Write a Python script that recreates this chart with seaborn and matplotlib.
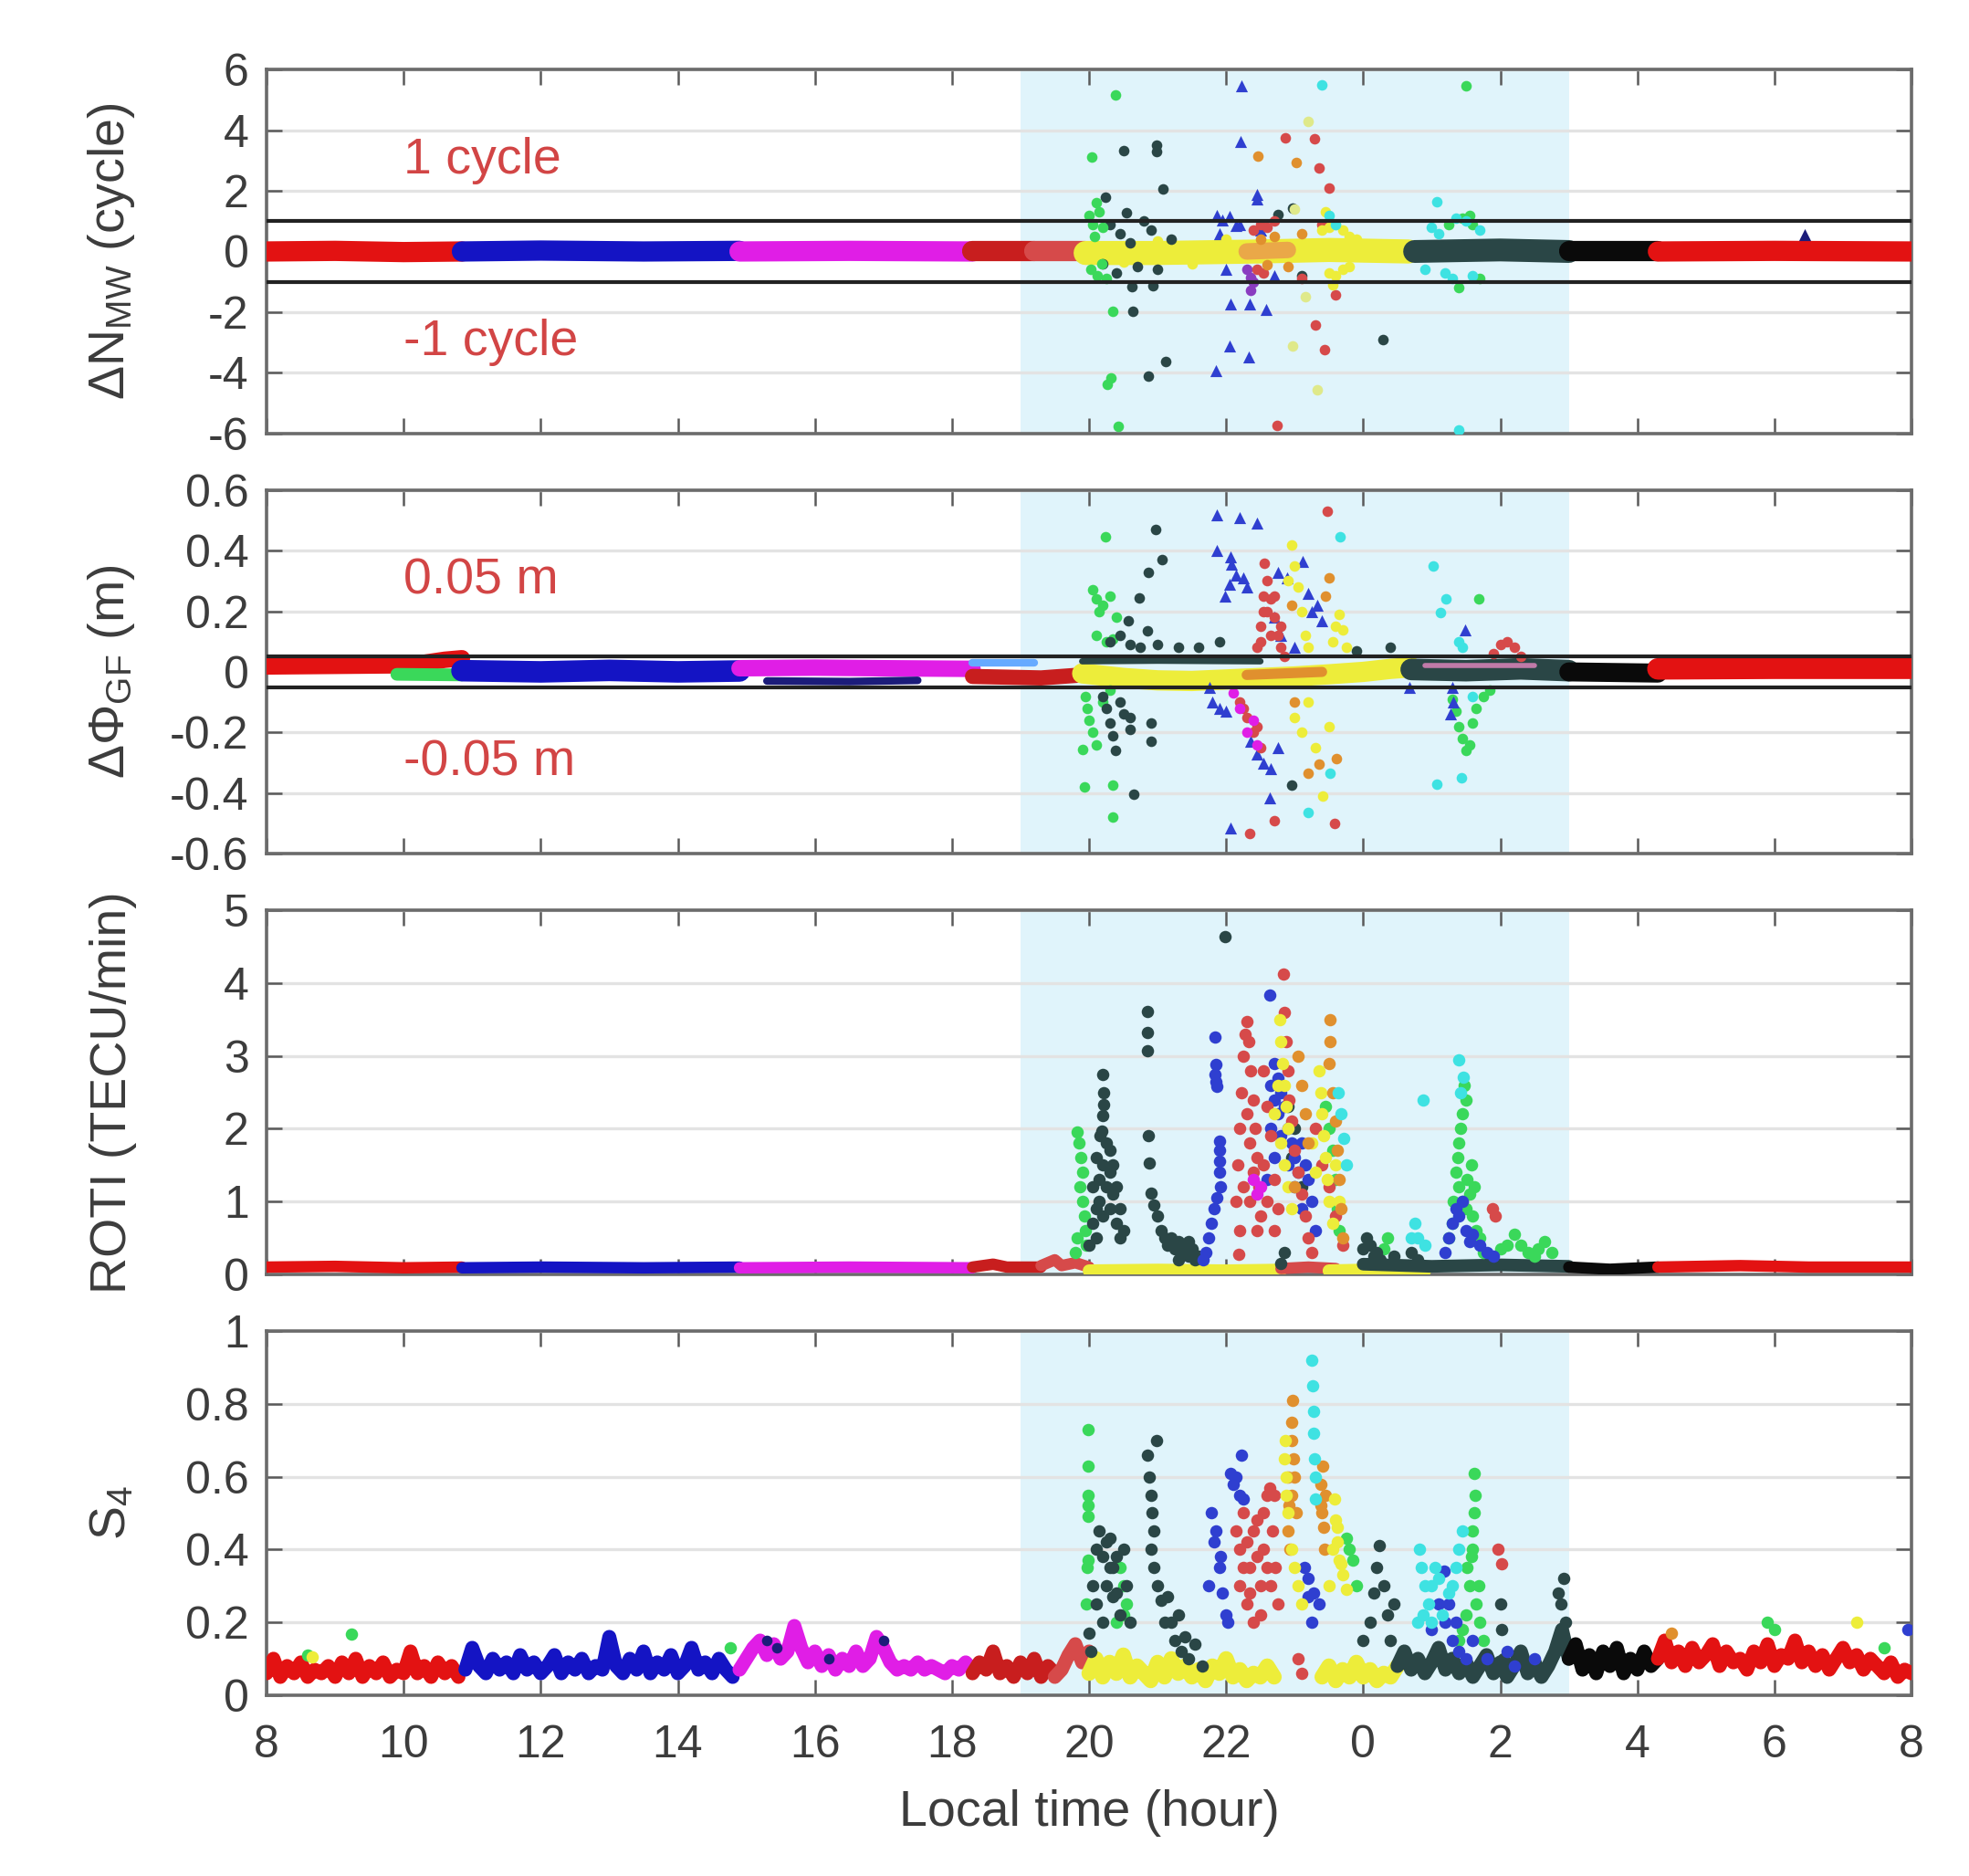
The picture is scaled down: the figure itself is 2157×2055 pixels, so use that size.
import matplotlib
matplotlib.use("Agg")
import matplotlib.pyplot as plt
import seaborn as sns
from matplotlib.ticker import FuncFormatter

# ---- colours (MATLAB-like satellite colours) ----
RED = "#e31212"
BLUE = "#1414c4"
MAGENTA = "#e01ee6"
DKRED = "#c81e1e"
INDRED = "#d64a4a"
YELLOW = "#eded3a"
PALE = "#dfe98a"
ORANGE = "#e0902e"
GREEN = "#3ad85a"
SLATE = "#2a4646"
CYAN = "#3ee2e2"
BLACK = "#0a0a0a"
PURPLE = "#8a3cc0"
ROYAL = "#2f3fd0"
NAVY = "#1c1c7a"
SHADE = "#e0f4fb"
TXT = "#3c3c3c"
ANNOT = "#d24545"

XTICKS = [8, 10, 12, 14, 16, 18, 20, 22, 24, 26, 28, 30, 32]
STORM = (19.0, 27.0)

# ---------------- Panel 1 : delta N_MW (cycle) ----------------
MW_RED1 = [(8.0, 0.0), (9.0, 0.02), (10.0, -0.02), (10.85, 0.0)]
MW_BLUE1 = [(10.85, 0.0), (12.0, 0.03), (13.5, 0.0), (14.9, 0.02)]
MW_MAG1 = [(14.9, 0.0), (16.5, 0.02), (18.3, 0.0)]
MW_RED2 = [(18.3, 0.0), (19.2, 0.0)]
MW_IND = [(19.2, 0.0), (19.95, 0.0)]
MW_YEL = [(19.95, -0.05), (21.0, -0.05), (22.5, 0.0), (23.5, 0.05), (24.66, 0.0)]
MW_ORA = [(22.3, 0.0), (22.9, 0.05)]
MW_SLATE2 = [(24.75, 0.0), (26.0, 0.05), (27.0, 0.0)]
MW_BLACK = [(27.0, 0.0), (28.3, 0.0)]
MW_RED3 = [(28.3, 0.0), (30.0, 0.02), (32.0, 0.0)]

MW_SLATE_PTS = [(20.24, 1.78), (20.51, 3.31), (20.98, 3.5), (20.98, 3.3), (21.08, 2.05),
                (20.54, 1.28), (20.62, -1.17), (20.93, -1.12), (20.64, -1.97), (21.12, -3.62),
                (20.86, -4.12), (20.3, 0.9), (20.45, 0.6), (20.7, -0.5), (20.9, 0.7),
                (21.2, 0.4), (20.4, -0.7), (20.8, 1.0), (24.29, -2.89), (20.6, 0.3),
                (21.0, -0.6), (22.97, 1.43), (22.75, 1.23), (23.1, -0.8), (20.2, -0.4)]
MW_GREEN_PTS = [(20.39, 5.15), (20.04, 3.1), (20.35, -1.97), (20.32, -4.17), (20.26, -4.37),
                (20.43, -5.77), (20.0, 1.2), (20.05, 0.9), (20.1, 1.6), (20.15, 1.3),
                (20.2, 0.8), (20.02, -0.6), (20.12, -0.8), (20.25, -0.9), (20.08, 0.5),
                (20.18, -0.4), (25.5, 5.45), (25.45, 1.1), (25.6, 0.9), (25.7, -0.9),
                (25.4, -1.2), (25.55, 1.2), (25.25, 0.9)]
MW_BLUE_PTS = [(22.23, 5.45), (22.21, 3.63), (22.45, 1.88), (22.45, 1.73), (21.87, 1.2),
               (21.95, 1.05), (22.05, 1.15), (22.14, 0.85), (22.06, -1.72), (22.35, -1.72),
               (22.59, -1.92), (22.05, -3.12), (22.33, -3.47), (21.85, -3.92), (22.0, -0.6),
               (22.2, 0.9), (22.5, 0.7), (22.7, -0.8), (21.9, 0.6)]
MW_PURPLE_PTS = [(22.36, -0.87), (22.36, -1.27), (22.3, -0.6), (22.4, -1.0)]
MW_IND_PTS = [(22.86, 3.75), (23.29, 3.71), (23.36, 2.75), (23.5, 2.08), (23.59, -1.42),
              (23.3, -2.42), (23.44, -3.22), (22.74, -5.72), (22.4, 0.7), (22.5, 0.9),
              (22.6, 0.8), (22.45, -0.6), (22.55, -0.7), (22.7, 1.0), (23.1, -0.9), (23.4, 0.9)]
MW_ORA_PTS = [(22.46, 3.13), (23.02, 2.93), (22.5, 0.4), (22.7, 0.5), (22.6, -0.45),
              (22.9, -0.5), (23.1, 0.6)]
MW_PALE_PTS = [(23.19, 4.28), (22.97, -3.12), (23.33, -4.57), (23.15, -1.5), (23.0, 1.4)]
MW_YEL_PTS = [(23.4, 0.7), (23.5, 0.8), (23.6, 0.9), (23.7, 0.7), (23.8, 0.5), (23.9, 0.4),
              (23.5, -0.7), (23.6, -0.8), (23.7, -0.6), (23.8, -0.5), (23.45, 1.3), (23.55, -1.1),
              (21.0, 0.35), (21.5, -0.4), (22.0, 0.4), (20.5, -0.35)]
MW_CYAN_PTS = [(23.4, 5.48), (25.07, 1.63), (25.4, -5.87), (23.5, 1.2), (23.6, 0.9), (25.0, 0.8),
               (25.2, -0.7), (25.3, -0.9), (25.5, 1.0), (25.6, -0.8), (24.9, -0.6), (25.1, 0.6),
               (25.35, 1.1), (25.7, 0.7)]
MW_NAVY_PTS = [(30.44, 0.56)]

# ---------------- Panel 2 : delta Phi_GF (m) ----------------
GF_RED1 = [(8.0, 0.018), (9.0, 0.02), (10.0, 0.022), (10.3, 0.03), (10.6, 0.04), (10.85, 0.045)]
GF_GREEN1 = [(9.9, -0.008), (10.85, -0.01)]
GF_BLUE1 = [(10.85, 0.004), (12.0, 0.0), (13.0, 0.005), (14.0, 0.0), (14.9, 0.003)]
GF_MAG1 = [(14.9, 0.012), (16.0, 0.014), (17.0, 0.012), (18.3, 0.01)]
GF_NAVY1 = [(15.3, -0.03), (16.5, -0.032), (17.5, -0.028)]
GF_LBLUE = [(18.3, 0.03), (19.2, 0.03)]
GF_RED2 = [(18.3, -0.015), (19.3, -0.02), (19.9, -0.01)]
GF_YEL = [(19.9, -0.005), (20.5, -0.02), (21.0, -0.028), (21.5, -0.03), (22.0, -0.025),
          (22.5, -0.02), (23.0, -0.015), (23.5, -0.008), (24.0, 0.0), (24.4, 0.01), (24.7, 0.015)]
GF_ORA = [(22.3, -0.01), (23.4, 0.0)]
GF_SLATE1 = [(19.9, 0.035), (21.0, 0.037), (22.5, 0.035)]
GF_SLATE2 = [(24.7, 0.008), (25.5, 0.004), (26.3, 0.01), (27.0, 0.004)]
GF_PINK = [(24.9, 0.022), (26.5, 0.022)]
GF_BLACK = [(27.0, 0.0), (28.3, -0.004)]
GF_RED3 = [(28.3, 0.01), (30.0, 0.012), (32.0, 0.012)]

GF_GREEN_PTS = [(20.24, 0.445), (20.05, 0.27), (20.1, 0.24), (20.15, 0.2), (20.2, 0.22),
                (20.3, 0.25), (20.4, 0.18), (20.1, 0.12), (20.25, 0.1), (20.35, 0.11),
                (19.95, -0.08), (19.97, -0.12), (20.0, -0.16), (20.05, -0.2), (20.1, -0.24),
                (19.9, -0.255), (19.93, -0.38), (20.35, -0.375), (20.35, -0.48), (20.3, -0.06),
                (20.2, -0.1), (25.68, 0.24), (25.3, -0.09), (25.35, -0.13), (25.4, -0.18),
                (25.45, -0.22), (25.5, -0.26), (25.55, -0.24), (25.6, -0.17), (25.65, -0.12),
                (25.75, -0.08), (25.85, -0.06)]
GF_SLATE_PTS = [(20.97, 0.47), (21.07, 0.37), (20.86, 0.33), (20.73, 0.245), (20.57, 0.17),
                (20.85, 0.135), (20.3, 0.1), (20.45, 0.12), (20.6, 0.09), (20.75, 0.08),
                (21.0, 0.09), (21.3, 0.08), (21.6, 0.08), (21.9, 0.1), (20.2, -0.08),
                (20.25, -0.12), (20.3, -0.17), (20.35, -0.21), (20.38, -0.26), (20.6, -0.15),
                (20.6, -0.19), (20.9, -0.17), (20.9, -0.23), (20.65, -0.405), (22.95, -0.375),
                (20.45, -0.1), (20.5, -0.14), (23.9, 0.07), (24.4, 0.08)]
GF_BLUE_PTS = [(21.87, 0.52), (22.2, 0.51), (22.45, 0.49), (21.87, 0.4), (22.06, 0.38),
               (22.08, 0.355), (21.98, 0.25), (22.05, 0.29), (22.15, 0.32), (22.25, 0.31),
               (22.3, 0.28), (22.75, 0.33), (22.89, 0.31), (23.11, 0.365), (23.33, 0.22),
               (23.39, 0.17), (23.2, 0.26), (23.25, 0.2), (21.76, -0.05), (21.8, -0.1),
               (21.9, -0.12), (22.0, -0.13), (22.36, -0.23), (22.45, -0.27), (22.55, -0.3),
               (22.65, -0.32), (22.75, -0.25), (22.64, -0.415), (22.06, -0.515), (25.49, 0.14),
               (25.3, -0.05), (25.32, -0.1), (25.28, -0.14), (24.68, -0.05), (22.7, 0.18),
               (22.8, 0.12), (23.0, 0.08)]
GF_IND_PTS = [(22.45, 0.08), (22.5, 0.15), (22.55, 0.25), (22.56, 0.36), (22.6, 0.3),
              (22.65, 0.24), (22.7, 0.18), (22.75, 0.12), (22.8, 0.08), (22.85, 0.05),
              (22.5, 0.1), (22.6, 0.2), (22.7, 0.25), (22.8, 0.15), (22.55, 0.2), (22.65, 0.12),
              (23.48, 0.53), (22.2, -0.1), (22.3, -0.15), (22.4, -0.2), (22.5, -0.25),
              (22.35, -0.535), (22.7, -0.49), (23.58, -0.5), (22.25, -0.12), (22.45, -0.18),
              (25.9, 0.06), (26.0, 0.09), (26.1, 0.1), (26.2, 0.08), (26.3, 0.05)]
GF_YEL_PTS = [(22.9, 0.3), (22.95, 0.42), (23.0, 0.35), (23.05, 0.28), (23.1, 0.2),
              (23.15, 0.12), (23.2, 0.08), (23.55, 0.1), (23.6, 0.15), (23.65, 0.19),
              (23.7, 0.14), (23.75, 0.08), (23.0, -0.15), (23.1, -0.2), (23.2, -0.1),
              (23.41, -0.41), (23.3, -0.25), (23.5, -0.18)]
GF_ORA_PTS = [(23.5, 0.31), (23.19, -0.335), (23.36, -0.305), (23.61, -0.285), (23.45, 0.25),
              (23.0, -0.1), (22.95, 0.22)]
GF_CYAN_PTS = [(23.66, 0.445), (23.19, -0.465), (23.52, -0.335), (25.02, 0.35), (25.21, 0.24),
               (25.13, 0.195), (25.07, -0.37), (25.43, -0.35), (25.4, 0.1), (25.45, 0.08),
               (25.6, -0.08)]
GF_MAG_PTS = [(22.1, -0.07), (22.2, -0.12), (22.3, -0.2), (22.4, -0.16), (22.45, -0.24)]

# ---------------- Panel 3 : ROTI (TECU/min) ----------------
RO_RED1 = [(8.0, 0.1), (9.0, 0.11), (10.0, 0.09), (10.85, 0.1)]
RO_BLUE1 = [(10.85, 0.09), (12.0, 0.1), (13.5, 0.09), (14.9, 0.1)]
RO_MAG1 = [(14.9, 0.09), (16.5, 0.1), (18.3, 0.09)]
RO_RED2 = [(18.3, 0.1), (18.6, 0.14), (18.8, 0.1), (19.3, 0.1)]
RO_IND = [(19.3, 0.12), (19.5, 0.2), (19.6, 0.12), (19.8, 0.16), (20.0, 0.1)]
RO_YEL1 = [(20.0, 0.05), (21.0, 0.06), (22.0, 0.05), (22.8, 0.06)]
RO_IND2 = [(22.8, 0.08), (23.2, 0.1), (23.6, 0.08)]
RO_YEL2 = [(23.5, 0.05), (24.0, 0.06), (24.9, 0.05)]
RO_SLATE2 = [(24.0, 0.14), (25.0, 0.11), (26.0, 0.13), (27.0, 0.11)]
RO_BLACK = [(27.0, 0.1), (27.6, 0.07), (28.3, 0.1)]
RO_RED3 = [(28.3, 0.1), (29.5, 0.12), (30.5, 0.1), (32.0, 0.1)]

RO_SLATE_PTS = [(20.2, 2.75), (20.21, 2.5), (20.21, 2.33), (20.2, 2.18), (20.18, 1.97),
                (20.16, 1.91), (20.1, 1.6), (20.2, 1.5), (20.3, 1.4), (20.25, 1.2), (20.35, 1.1),
                (20.15, 1.0), (20.3, 0.9), (20.2, 0.8), (20.4, 0.7), (20.05, 0.7), (20.1, 0.5),
                (20.0, 0.4), (20.45, 0.5), (20.15, 1.3), (20.3, 1.7), (20.25, 1.8),
                (20.35, 1.5), (20.4, 1.2), (20.45, 0.9), (20.5, 0.6), (20.05, 1.2), (20.1, 0.9),
                (20.85, 3.61), (20.85, 3.32), (20.85, 3.07), (20.86, 1.91), (20.88, 1.53),
                (20.9, 1.11), (20.95, 0.95), (21.0, 0.8), (21.05, 0.6), (21.1, 0.5),
                (21.15, 0.4), (21.2, 0.5), (21.25, 0.35), (21.3, 0.45), (21.35, 0.3),
                (21.4, 0.4), (21.45, 0.25), (21.5, 0.35), (21.55, 0.2), (21.6, 0.25),
                (21.3, 0.2), (21.45, 0.45), (21.98, 4.64), (24.0, 0.35), (24.05, 0.5),
                (24.1, 0.4), (24.15, 0.25), (24.2, 0.3), (24.25, 0.2), (24.45, 0.25),
                (22.9, 2.3), (23.0, 2.0), (22.95, 1.6), (23.1, 1.2), (22.85, 0.3),
                (22.8, 0.15), (24.7, 0.3), (24.8, 0.2)]
RO_GREEN_PTS = [(19.83, 1.95), (19.85, 1.8), (19.88, 1.6), (19.9, 1.4), (19.86, 1.2),
                (19.9, 1.0), (19.93, 0.8), (19.95, 0.6), (19.96, 0.4), (19.8, 0.3), (19.82, 0.5),
                (23.45, 2.3), (23.5, 2.0), (23.55, 1.7), (23.6, 1.3), (23.62, 0.9), (23.65, 0.6),
                (24.3, 0.35), (24.35, 0.5), (25.48, 2.6), (25.5, 2.4), (25.45, 2.2),
                (25.42, 2.0), (25.4, 1.8), (25.38, 1.6), (25.35, 1.4), (25.4, 1.2), (25.45, 1.0),
                (25.5, 0.9), (25.55, 1.1), (25.6, 0.8), (25.65, 0.6), (25.7, 0.5), (25.32, 1.0),
                (25.3, 0.7), (25.52, 1.3), (25.58, 1.5), (25.62, 1.2), (25.25, 0.5),
                (25.75, 0.3), (26.0, 0.35), (26.1, 0.4), (26.2, 0.55), (26.3, 0.4), (26.4, 0.3),
                (26.5, 0.25), (26.55, 0.35), (26.65, 0.45), (26.75, 0.3)]
RO_BLUE_PTS = [(21.84, 3.26), (21.85, 2.88), (21.84, 2.75), (21.85, 2.65), (21.87, 2.58),
               (21.9, 1.83), (21.9, 1.7), (21.91, 1.55), (21.9, 1.4), (21.92, 1.2),
               (21.87, 1.05), (21.83, 0.9), (21.78, 0.7), (21.74, 0.5), (21.7, 0.3),
               (21.66, 0.2), (22.64, 3.84), (22.65, 2.6), (22.7, 2.4), (22.75, 2.2),
               (22.8, 2.5), (22.85, 2.3), (22.9, 2.0), (22.95, 1.8), (23.0, 1.6), (23.05, 1.4),
               (23.1, 1.8), (23.15, 1.5), (22.7, 1.6), (22.6, 1.3), (22.7, 2.9), (22.75, 2.7),
               (22.8, 1.9), (22.9, 1.5), (23.0, 1.2), (23.1, 0.9), (23.2, 1.3), (23.25, 1.0),
               (23.3, 0.6), (22.65, 2.0), (25.25, 0.5), (25.3, 0.7),
               (25.35, 0.9), (25.4, 0.8), (25.45, 1.0), (25.5, 0.6), (25.55, 0.45), (25.6, 0.55),
               (25.7, 0.4), (25.8, 0.3), (25.9, 0.25), (25.2, 0.3)]
RO_IND_PTS = [(22.15, 1.0), (22.17, 1.5), (22.2, 2.0), (22.22, 2.5), (22.25, 3.0), (22.28, 3.3),
              (22.3, 3.47), (22.33, 3.2), (22.36, 2.8), (22.4, 2.4), (22.42, 2.0), (22.45, 1.6),
              (22.48, 1.2), (22.5, 0.8), (22.2, 0.6), (22.18, 0.27), (22.3, 2.2), (22.35, 1.8),
              (22.4, 1.4), (22.25, 1.2), (22.35, 1.0), (22.45, 0.6), (22.55, 2.8), (22.6, 2.3),
              (22.65, 1.9), (22.7, 1.3), (22.75, 0.9), (22.55, 1.5), (22.6, 1.0), (22.7, 0.6),
              (22.83, 4.12), (22.85, 3.6), (22.88, 3.2), (22.9, 2.8),
              (22.92, 2.4), (22.95, 2.1), (23.0, 1.7), (23.05, 1.4), (23.1, 1.1), (23.15, 0.8),
              (23.2, 0.5), (23.25, 0.3), (23.3, 2.0), (23.4, 1.5), (23.5, 1.2), (23.6, 0.8),
              (23.7, 0.4), (25.88, 0.9), (25.92, 0.8)]
RO_ORA_PTS = [(23.52, 3.5), (23.52, 3.2), (23.5, 2.9), (23.55, 2.5), (23.6, 2.1), (23.62, 1.7),
              (23.65, 1.3), (23.68, 0.9), (23.7, 0.5), (23.05, 3.0), (23.1, 2.6), (23.15, 2.2),
              (23.2, 1.8), (23.0, 1.2)]
RO_YEL_PTS = [(22.78, 3.5), (22.8, 3.2), (22.82, 2.9), (22.85, 2.6), (22.88, 2.3), (22.9, 2.0),
              (22.8, 1.8), (22.85, 1.5), (22.9, 1.2), (22.95, 0.9), (22.75, 2.6), (22.7, 2.2),
              (23.35, 2.8), (23.38, 2.5), (23.4, 2.2), (23.42, 1.9), (23.45, 1.6), (23.48, 1.3),
              (23.5, 1.0), (23.55, 0.7), (23.3, 1.4), (23.25, 1.8), (23.6, 1.5), (23.65, 1.0)]
RO_CYAN_PTS = [(23.64, 2.5), (23.68, 2.2), (23.72, 1.87), (23.75, 1.5), (24.88, 2.39),
               (25.4, 2.94), (25.46, 2.71), (25.42, 2.5), (24.7, 0.5), (24.75, 0.7),
               (24.8, 0.5), (24.9, 0.4)]
RO_MAG_PTS = [(22.4, 1.3), (22.45, 1.1), (22.5, 1.2)]

# ---------------- Panel 4 : S4 ----------------
S4_RED1 = [(8.0, .06), (8.1, .10), (8.2, .05), (8.3, .08), (8.4, .06), (8.5, .09), (8.6, .05),
           (8.7, .07), (8.8, .06), (8.9, .08), (9.0, .05), (9.1, .09), (9.2, .06), (9.3, .10),
           (9.4, .05), (9.5, .08), (9.6, .06), (9.7, .09), (9.8, .05), (9.9, .07), (10.0, .06),
           (10.1, .12), (10.2, .06), (10.3, .08), (10.4, .05), (10.5, .09), (10.6, .06),
           (10.7, .08), (10.8, .05)]
S4_BLUE1 = [(10.9, .07), (11.0, .13), (11.1, .08), (11.2, .06), (11.3, .10), (11.4, .07),
            (11.5, .09), (11.6, .06), (11.7, .11), (11.8, .07), (11.9, .09), (12.0, .06),
            (12.1, .08), (12.2, .11), (12.3, .06), (12.4, .09), (12.5, .07), (12.6, .10),
            (12.7, .06), (12.8, .08), (12.9, .07), (13.0, .16), (13.1, .08), (13.2, .06),
            (13.3, .10), (13.4, .07), (13.5, .12), (13.6, .06), (13.7, .09), (13.8, .07),
            (13.9, .11), (14.0, .06), (14.1, .08), (14.2, .13), (14.3, .07), (14.4, .09),
            (14.5, .06), (14.6, .10), (14.7, .07), (14.8, .05)]
S4_MAG1 = [(14.9, .07), (15.0, .10), (15.1, .13), (15.2, .15), (15.3, .11), (15.4, .14),
           (15.5, .10), (15.6, .12), (15.7, .19), (15.8, .13), (15.9, .09), (16.0, .12),
           (16.1, .08), (16.2, .11), (16.3, .07), (16.4, .10), (16.5, .08), (16.6, .12),
           (16.7, .08), (16.8, .10), (16.9, .16), (17.0, .13), (17.1, .09), (17.2, .07),
           (17.3, .08), (17.4, .07), (17.5, .09), (17.6, .07), (17.7, .08), (17.8, .07),
           (17.9, .06), (18.0, .08), (18.1, .07), (18.2, .09), (18.3, .07)]
S4_RED2 = [(18.3, .06), (18.4, .09), (18.5, .07), (18.6, .12), (18.7, .06), (18.8, .08),
           (18.9, .05), (19.0, .09), (19.1, .06), (19.2, .10), (19.3, .05), (19.4, .08),
           (19.5, .06)]
S4_IND = [(19.5, .05), (19.6, .07), (19.7, .11), (19.8, .14), (19.9, .09), (20.0, .12)]
S4_YEL1 = [(20.0, .06), (20.1, .10), (20.2, .05), (20.3, .09), (20.4, .06), (20.5, .11),
           (20.6, .05), (20.7, .08), (20.8, .06), (20.9, .04), (21.0, .09), (21.1, .05),
           (21.2, .10), (21.3, .06), (21.4, .08), (21.5, .05), (21.6, .07), (21.7, .04),
           (21.8, .08), (21.9, .06), (22.0, .10), (22.1, .05), (22.2, .07), (22.3, .04),
           (22.4, .06), (22.5, .05), (22.6, .08), (22.7, .05)]
S4_YEL2 = [(23.4, .05), (23.5, .08), (23.6, .04), (23.7, .07), (23.8, .05), (23.9, .09),
           (24.0, .05), (24.1, .07), (24.2, .04), (24.3, .06), (24.4, .05), (24.5, .08)]
S4_SLATE2 = [(24.5, .08), (24.6, .12), (24.7, .07), (24.8, .10), (24.9, .06), (25.0, .09),
             (25.1, .13), (25.2, .07), (25.3, .10), (25.4, .06), (25.5, .09), (25.6, .05),
             (25.7, .08), (25.8, .11), (25.9, .06), (26.0, .09), (26.1, .05), (26.2, .08),
             (26.3, .12), (26.4, .06), (26.5, .09), (26.6, .05), (26.7, .08), (26.8, .12),
             (26.9, .18), (27.0, .10)]
S4_BLACK = [(27.0, .10), (27.1, .14), (27.2, .07), (27.3, .11), (27.4, .06), (27.5, .12),
            (27.6, .08), (27.7, .13), (27.8, .06), (27.9, .10), (28.0, .07), (28.1, .12),
            (28.2, .08), (28.3, .10)]
S4_RED3 = [(28.3, .10), (28.4, .15), (28.5, .09), (28.6, .12), (28.7, .08), (28.8, .13),
           (28.9, .09), (29.0, .11), (29.1, .14), (29.2, .08), (29.3, .12), (29.4, .09),
           (29.5, .10), (29.6, .07), (29.7, .12), (29.8, .09), (29.9, .14), (30.0, .08),
           (30.1, .11), (30.2, .10), (30.3, .15), (30.4, .09), (30.5, .12), (30.6, .08),
           (30.7, .11), (30.8, .07), (30.9, .10), (31.0, .13), (31.1, .09), (31.2, .11),
           (31.3, .07), (31.4, .10), (31.5, .08), (31.6, .06), (31.7, .09), (31.8, .05),
           (31.9, .07), (32.0, .06)]

S4_GREEN_PTS = [(19.98, 0.73), (19.98, 0.63), (19.99, 0.55), (19.99, 0.52), (19.99, 0.49),
                (19.98, 0.37), (19.97, 0.35), (19.96, 0.25), (20.45, 0.35), (20.5, 0.3),
                (20.55, 0.25), (20.5, 0.22), (20.4, 0.2), (23.75, 0.43), (23.8, 0.4),
                (23.85, 0.37), (23.9, 0.3), (25.62, 0.61), (25.63, 0.55), (25.62, 0.5),
                (25.6, 0.45), (25.58, 0.38), (25.55, 0.3), (25.5, 0.22), (25.45, 0.18),
                (25.65, 0.25), (25.7, 0.2), (25.4, 0.15), (25.6, 0.4), (25.52, 0.35),
                (25.68, 0.3), (25.75, 0.15), (9.24, 0.167), (8.6, 0.11), (14.76, 0.13),
                (29.9, 0.2), (30.0, 0.18), (31.6, 0.13)]
S4_SLATE_PTS = [(20.05, 0.3), (20.1, 0.4), (20.15, 0.45), (20.2, 0.38), (20.25, 0.3),
                (20.3, 0.43), (20.35, 0.35), (20.4, 0.28), (20.45, 0.22), (20.5, 0.4),
                (20.55, 0.3), (20.6, 0.2), (20.0, 0.17), (20.02, 0.12), (20.1, 0.25),
                (20.2, 0.2), (20.3, 0.35), (20.4, 0.38), (20.25, 0.42), (20.35, 0.27),
                (20.98, 0.70), (20.85, 0.66), (20.88, 0.6), (20.9, 0.55), (20.92, 0.5),
                (20.95, 0.45), (20.9, 0.4), (20.95, 0.35), (21.0, 0.3), (21.05, 0.26),
                (21.1, 0.2), (21.15, 0.27), (21.2, 0.2), (21.25, 0.15), (21.3, 0.22),
                (21.35, 0.12), (21.4, 0.16), (21.45, 0.1), (21.55, 0.14), (21.65, 0.08),
                (24.24, 0.41), (24.2, 0.35), (24.15, 0.28), (24.1, 0.2), (24.0, 0.15),
                (24.3, 0.3), (24.35, 0.22), (24.4, 0.15), (24.45, 0.25), (26.92, 0.32),
                (26.88, 0.25), (26.85, 0.28), (26.95, 0.2), (26.9, 0.15), (26.0, 0.25),
                (26.02, 0.18), (26.05, 0.1)]
S4_BLUE_PTS = [(22.23, 0.66), (22.06, 0.61), (22.1, 0.58), (22.15, 0.6), (22.2, 0.55),
               (22.25, 0.54), (21.78, 0.5), (21.85, 0.45), (21.82, 0.42), (21.92, 0.38),
               (21.9, 0.35), (21.95, 0.28), (22.0, 0.22), (22.03, 0.2), (21.75, 0.3),
               (23.14, 0.35), (23.2, 0.32), (23.28, 0.28), (23.36, 0.25), (23.25, 0.2),
               (23.2, 0.27), (25.18, 0.34), (25.1, 0.25), (25.2, 0.2), (25.25, 0.25),
               (25.3, 0.15), (25.35, 0.2), (25.0, 0.18), (25.4, 0.12), (25.5, 0.1),
               (25.6, 0.15), (25.8, 0.1), (26.1, 0.12), (26.2, 0.08), (26.5, 0.1), (31.95, 0.18)]
S4_IND_PTS = [(22.14, 0.45), (22.2, 0.4), (22.25, 0.5), (22.3, 0.42), (22.35, 0.35),
              (22.4, 0.45), (22.45, 0.38), (22.5, 0.3), (22.55, 0.5), (22.6, 0.55),
              (22.64, 0.57), (22.68, 0.45), (22.72, 0.35), (22.75, 0.25), (22.3, 0.25),
              (22.4, 0.2), (22.5, 0.22), (22.2, 0.3), (22.35, 0.28), (22.45, 0.48),
              (22.55, 0.4), (22.6, 0.35), (22.7, 0.55), (22.65, 0.3), (22.25, 0.35),
              (25.97, 0.4), (26.02, 0.36), (23.05, 0.1), (23.1, 0.06)]
S4_ORA_PTS = [(22.97, 0.81), (22.95, 0.75), (22.96, 0.7), (22.98, 0.65), (23.0, 0.6),
              (22.95, 0.55), (23.02, 0.5), (22.9, 0.45), (22.93, 0.4), (22.9, 0.6),
              (22.92, 0.52), (23.41, 0.63), (23.38, 0.58), (23.45, 0.55), (23.4, 0.5),
              (23.42, 0.46), (23.38, 0.52), (23.44, 0.4), (28.5, 0.17)]
S4_YEL_PTS = [(22.86, 0.7), (22.85, 0.65), (22.88, 0.6), (22.88, 0.55), (22.9, 0.5),
              (22.95, 0.4), (23.0, 0.35), (23.05, 0.3), (23.1, 0.25), (23.58, 0.54),
              (23.6, 0.48), (23.62, 0.46), (23.62, 0.42), (23.65, 0.37), (23.68, 0.36),
              (23.7, 0.33), (23.75, 0.29), (23.55, 0.4), (23.5, 0.3), (8.67, 0.106), (31.2, 0.2)]
S4_CYAN_PTS = [(23.25, 0.92), (23.26, 0.85), (23.27, 0.78), (23.28, 0.72), (23.29, 0.65),
               (23.3, 0.6), (23.3, 0.54), (24.82, 0.4), (24.85, 0.35), (24.9, 0.3),
               (24.95, 0.25), (25.0, 0.3), (25.05, 0.35), (25.1, 0.32), (24.8, 0.2),
               (24.88, 0.22), (25.0, 0.2), (25.15, 0.22), (25.25, 0.28), (25.3, 0.3),
               (25.35, 0.35), (25.4, 0.4), (25.45, 0.45)]
S4_NAVY_PTS = [(15.3, 0.15), (15.45, 0.13), (17.0, 0.15), (16.2, 0.1)]


def band(ax, pts, color, lw, z=3):
    xs, ys = zip(*pts)
    sns.lineplot(x=list(xs), y=list(ys), color=color, linewidth=lw,
                 estimator=None, sort=False, ax=ax, zorder=z)


def dots(ax, pts, color, s=70, marker="o", z=4):
    xs, ys = zip(*pts)
    sns.scatterplot(x=list(xs), y=list(ys), color=color, s=s, marker=marker,
                    linewidth=0, ax=ax, zorder=z)


def style(ax, yticks, ylim, ylabel, bottom=False):
    ax.axvspan(*STORM, color=SHADE, lw=0, zorder=0)
    ax.set_xlim(8, 32)
    ax.set_ylim(*ylim)
    ax.set_xticks(XTICKS)
    ax.set_yticks(yticks)
    ax.yaxis.set_major_formatter(FuncFormatter(lambda v, _: f"{v:g}"))
    ax.xaxis.set_major_formatter(FuncFormatter(lambda v, _: str(int(round(v)) % 24)))
    ax.grid(axis="y", color="#e3e3e3", lw=2.4)
    ax.grid(axis="x", visible=False)
    ax.set_axisbelow(True)
    ax.tick_params(axis="both", direction="in", length=12, width=1.8, color="#5a5a5a",
                   top=True, right=True, bottom=True, left=True,
                   labelsize=36, labelcolor=TXT)
    ax.tick_params(axis="x", pad=23, labelbottom=bottom)
    ax.tick_params(axis="y", pad=14)
    for sp in ax.spines.values():
        sp.set_color("#6b6b6b")
        sp.set_linewidth(2.6)
    ax.set_xlabel("")
    ax.set_ylabel(ylabel, fontsize=40, color=TXT)
    ax.yaxis.set_label_coords(-0.079, 0.5)


sns.set_theme(style="white")
plt.rcParams["font.family"] = ["Liberation Sans", "DejaVu Sans"]
plt.rcParams["mathtext.fontset"] = "custom"
plt.rcParams["mathtext.rm"] = "Liberation Sans"
plt.rcParams["mathtext.it"] = "Liberation Sans:italic"
plt.rcParams["axes.unicode_minus"] = False

fig = plt.figure(figsize=(21.57, 20.55), dpi=100)
ax1 = fig.add_axes([0.1354, 0.7689, 0.8354, 0.1941])
ax2 = fig.add_axes([0.1354, 0.5450, 0.8354, 0.1937])
ax3 = fig.add_axes([0.1354, 0.3207, 0.8354, 0.1941])
ax4 = fig.add_axes([0.1354, 0.0964, 0.8354, 0.1941])

# ---- panel 1 ----
band(ax1, MW_RED1, RED, 16)
band(ax1, MW_BLUE1, BLUE, 16)
band(ax1, MW_MAG1, MAGENTA, 16)
band(ax1, MW_RED2, DKRED, 16)
band(ax1, MW_IND, INDRED, 16)
band(ax1, MW_YEL, YELLOW, 19)
band(ax1, MW_ORA, "#eaa848", 13)
band(ax1, MW_SLATE2, SLATE, 18)
band(ax1, MW_BLACK, BLACK, 16)
band(ax1, MW_RED3, RED, 16)
dots(ax1, MW_SLATE_PTS, SLATE)
dots(ax1, MW_GREEN_PTS, GREEN)
dots(ax1, MW_BLUE_PTS, ROYAL, s=90, marker="^")
dots(ax1, MW_PURPLE_PTS, PURPLE)
dots(ax1, MW_IND_PTS, INDRED)
dots(ax1, MW_ORA_PTS, ORANGE)
dots(ax1, MW_PALE_PTS, PALE)
dots(ax1, MW_YEL_PTS, YELLOW)
dots(ax1, MW_CYAN_PTS, CYAN)
dots(ax1, MW_NAVY_PTS, NAVY, s=90, marker="^")
ax1.axhline(1, color="#222222", lw=3, zorder=5)
ax1.axhline(-1, color="#222222", lw=3, zorder=5)
ax1.text(10.0, 3.0, "1 cycle", color=ANNOT, fontsize=40, va="center", ha="left")
ax1.text(10.0, -3.0, "-1 cycle", color=ANNOT, fontsize=40, va="center", ha="left")
style(ax1, [-6, -4, -2, 0, 2, 4, 6], (-6, 6), "ΔN$_{\\mathrm{MW}}$ (cycle)")

# ---- panel 2 ----
band(ax2, GF_RED1, RED, 13)
band(ax2, GF_GREEN1, GREEN, 10)
band(ax2, GF_BLUE1, BLUE, 17)
band(ax2, GF_MAG1, MAGENTA, 13)
band(ax2, GF_NAVY1, NAVY, 6)
band(ax2, GF_LBLUE, "#66aaff", 6)
band(ax2, GF_RED2, DKRED, 12)
band(ax2, GF_YEL, YELLOW, 16)
band(ax2, GF_ORA, ORANGE, 8)
band(ax2, GF_SLATE1, SLATE, 5)
band(ax2, GF_SLATE2, SLATE, 17)
band(ax2, GF_PINK, "#c07aa8", 4)
band(ax2, GF_BLACK, BLACK, 15)
band(ax2, GF_RED3, RED, 17)
dots(ax2, GF_GREEN_PTS, GREEN)
dots(ax2, GF_SLATE_PTS, SLATE)
dots(ax2, GF_BLUE_PTS, ROYAL, s=90, marker="^")
dots(ax2, GF_IND_PTS, INDRED)
dots(ax2, GF_YEL_PTS, YELLOW)
dots(ax2, GF_ORA_PTS, ORANGE)
dots(ax2, GF_CYAN_PTS, CYAN)
dots(ax2, GF_MAG_PTS, MAGENTA)
ax2.axhline(0.05, color="#222222", lw=3, zorder=5)
ax2.axhline(-0.05, color="#222222", lw=3, zorder=5)
ax2.text(10.0, 0.30, "0.05 m", color=ANNOT, fontsize=40, va="center", ha="left")
ax2.text(10.0, -0.30, "-0.05 m", color=ANNOT, fontsize=40, va="center", ha="left")
style(ax2, [-0.6, -0.4, -0.2, 0, 0.2, 0.4, 0.6], (-0.6, 0.6), "ΔΦ$_{\\mathrm{GF}}$ (m)")

# ---- panel 3 ----
band(ax3, RO_RED1, RED, 9)
band(ax3, RO_BLUE1, BLUE, 9)
band(ax3, RO_MAG1, MAGENTA, 9)
band(ax3, RO_RED2, DKRED, 9)
band(ax3, RO_IND, INDRED, 9)
band(ax3, RO_YEL1, YELLOW, 10)
band(ax3, RO_IND2, INDRED, 9)
band(ax3, RO_YEL2, YELLOW, 10)
band(ax3, RO_SLATE2, SLATE, 10)
band(ax3, RO_BLACK, BLACK, 9)
band(ax3, RO_RED3, RED, 9)
dots(ax3, RO_GREEN_PTS, GREEN, s=95)
dots(ax3, RO_SLATE_PTS, SLATE, s=95)
dots(ax3, RO_BLUE_PTS, ROYAL, s=95)
dots(ax3, RO_IND_PTS, INDRED, s=95)
dots(ax3, RO_YEL_PTS, YELLOW, s=95)
dots(ax3, RO_ORA_PTS, ORANGE, s=95)
dots(ax3, RO_CYAN_PTS, CYAN, s=95)
dots(ax3, RO_MAG_PTS, MAGENTA, s=95)
style(ax3, [0, 1, 2, 3, 4, 5], (0, 5), "ROTI (TECU/min)")

# ---- panel 4 ----
band(ax4, S4_RED1, RED, 11)
band(ax4, S4_BLUE1, BLUE, 11)
band(ax4, S4_MAG1, MAGENTA, 11)
band(ax4, S4_RED2, DKRED, 11)
band(ax4, S4_IND, INDRED, 11)
band(ax4, S4_YEL1, YELLOW, 12)
band(ax4, S4_YEL2, YELLOW, 12)
band(ax4, S4_SLATE2, SLATE, 11)
band(ax4, S4_BLACK, BLACK, 11)
band(ax4, S4_RED3, RED, 11)
dots(ax4, S4_GREEN_PTS, GREEN, s=95)
dots(ax4, S4_SLATE_PTS, SLATE, s=95)
dots(ax4, S4_BLUE_PTS, ROYAL, s=95)
dots(ax4, S4_IND_PTS, INDRED, s=95)
dots(ax4, S4_ORA_PTS, ORANGE, s=95)
dots(ax4, S4_YEL_PTS, YELLOW, s=95)
dots(ax4, S4_CYAN_PTS, CYAN, s=95)
dots(ax4, S4_NAVY_PTS, NAVY, s=70)
style(ax4, [0, 0.2, 0.4, 0.6, 0.8, 1], (0, 1), "S$_{4}$", bottom=True)
ax4.set_xlabel("Local time (hour)", fontsize=40, color=TXT, labelpad=18)

fig.savefig("out.png", dpi=100, facecolor="white")
